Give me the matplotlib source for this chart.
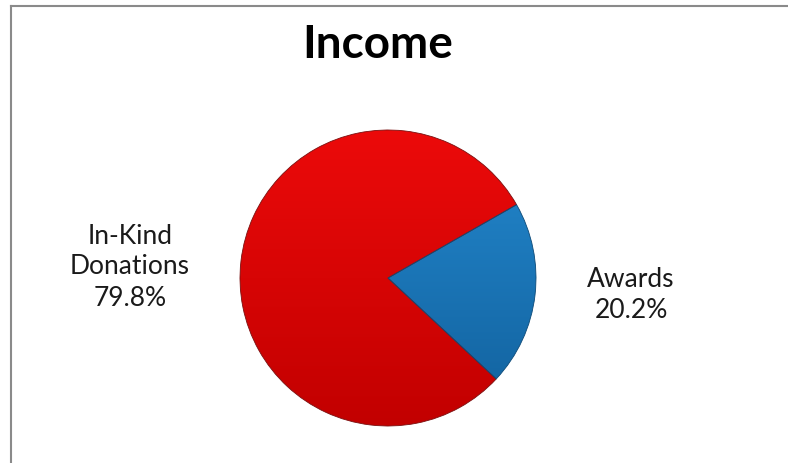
import matplotlib
matplotlib.use("Agg")
import matplotlib.pyplot as plt
from matplotlib.lines import Line2D
from matplotlib.colors import LinearSegmentedColormap
import numpy as np

categories = ["In-Kind\nDonations", "Awards"]
values = [79.8, 20.2]
colors = ["#DE0505", "#1670B2"]
title = "Income"

plt.rcParams['font.family'] = ['Lato', 'DejaVu Sans']

W, H = 788, 463
fig = plt.figure(figsize=(W / 100, H / 100), dpi=100)
fig.patch.set_facecolor("white")

# pie axes: centre (388, 278) px, radius 148 px
cx, cy, r = 388, 278, 148
m = 1.2
ax = fig.add_axes([(cx - r * m) / W, (H - cy - r * m) / H, 2 * r * m / W, 2 * r * m / H])
ax.set_xlim(-m, m)
ax.set_ylim(-m, m)
ax.set_aspect("equal")
ax.axis("off")

wedges, texts = ax.pie(values, colors=colors, startangle=29.7, counterclock=True,
                       radius=1.0, center=(0, 0), frame=False,
                       wedgeprops=dict(edgecolor="#7a1010", linewidth=0.6),
                       labels=[f"{c}\n{v:.1f}%" for c, v in zip(categories, values)],
                       labeldistance=1.7, textprops=dict(fontsize=19, ha="center", va="center",
                                                         linespacing=1.3, color="#1a1a1a"))
wedges[1].set_edgecolor("#0d4a78")

# gradient shading clipped to each wedge
grad = np.linspace(0, 1, 256).reshape(-1, 1)
for w, (top, bot) in zip(wedges, [("#EC0A0A", "#C20000"), ("#2489CF", "#11609C")]):
    cmap = LinearSegmentedColormap.from_list("g", [bot, top])
    im = ax.imshow(grad, cmap=cmap, extent=(-1, 1, -1, 1), origin="lower", aspect="auto", zorder=w.get_zorder())
    im.set_clip_path(w)
    ax.set_xlim(-m, m)
    ax.set_ylim(-m, m)
for w in wedges:
    w.set_facecolor("none")
    w.set_zorder(3)

# label positions (pixel-based layout)
def to_data(px, py):
    return ((px - cx) / r, (cy - py) / r)

texts[0].set_position(to_data(130, 267))
texts[1].set_position(to_data(631, 295))

fig.text(377.5 / W, 1 - 58 / H, title, ha="center", va="baseline",
         fontsize=33, fontweight="bold", color="black")

# chart frame (top and left edges visible)
fig.add_artist(Line2D([11 / W, 1], [1 - 6 / H, 1 - 6 / H], color="#8a8a8a", lw=1.5, transform=fig.transFigure))
fig.add_artist(Line2D([11 / W, 11 / W], [1 - 6 / H, 0], color="#8a8a8a", lw=1.5, transform=fig.transFigure))

fig.savefig("out.png", dpi=100, facecolor="white")
